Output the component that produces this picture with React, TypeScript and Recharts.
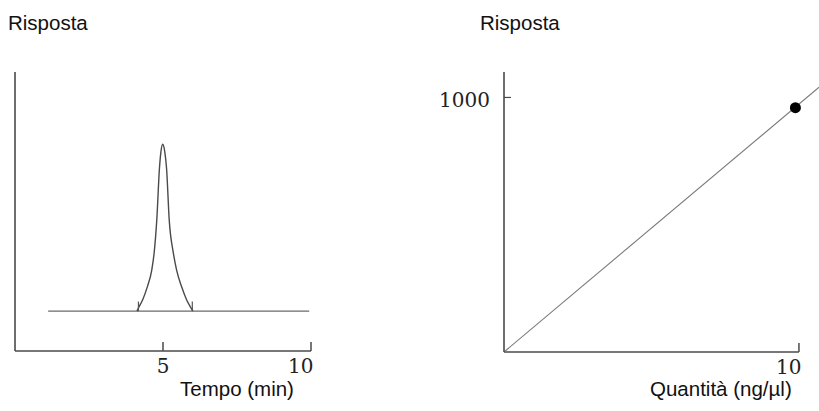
import React from 'react';
import { LineChart, ComposedChart, Line, Scatter, XAxis, YAxis, ReferenceLine } from 'recharts';

// chromatogram: flat baseline with a single peak near 5 min
const baseline = [
  { t: 1.12, r: 14.3 },
  { t: 9.94, r: 14.3 },
];
const peak = [
  { t: 4.12, r: 14.3 },
  { t: 4.17, r: 15.4 },
  { t: 4.31, r: 18.3 },
  { t: 4.47, r: 23.0 },
  { t: 4.62, r: 29.0 },
  { t: 4.7, r: 35.1 },
  { t: 4.79, r: 47.0 },
  { t: 4.88, r: 65.5 },
  { t: 4.93, r: 71.4 },
  { t: 4.99, r: 74.1 },
  { t: 5.06, r: 71.4 },
  { t: 5.12, r: 65.5 },
  { t: 5.21, r: 47.0 },
  { t: 5.35, r: 35.1 },
  { t: 5.46, r: 29.0 },
  { t: 5.63, r: 23.0 },
  { t: 5.8, r: 18.3 },
  { t: 5.95, r: 15.4 },
  { t: 6.01, r: 14.3 },
];
const peakLimits = [4.17, 5.99];
const peakLimitHeight = [14.3, 17.7];
const timeTicks = [5, 10];

// calibration curve: response vs amount
const calibLine = [
  { q: 0, r: 0 },
  { q: 10.68, r: 1040 },
];
const calibPoints = [{ q: 9.88, r: 960 }];
const amountTicks = [10];
const responseTicks = [1000];
const amountAxisEnd = 10;

const AXIS = '#4a4a4a';
const TEXT = '#111';
const titleFont: React.CSSProperties = {
  position: 'absolute',
  fontFamily: '"Liberation Sans", Arial, sans-serif',
  fontSize: 20.5,
  lineHeight: '20px',
  color: TEXT,
  whiteSpace: 'nowrap',
};
const numFont = '"DejaVu Serif", serif';

// ticks point inwards, so the tick line is drawn here with the label
const XTick = (props: any) => {
  const { x, y, payload } = props;
  const wide = String(payload.value).length > 1;
  return (
    <g>
      <line x1={x} y1={y} x2={x} y2={y - 9} stroke={AXIS} strokeWidth={1.5} />
      <text
        x={wide ? x + 2.5 : x}
        y={y + 22}
        textAnchor={wide ? 'end' : 'middle'}
        fontFamily={numFont}
        fontSize={20}
        fill="#222"
      >
        {payload.value}
      </text>
    </g>
  );
};

const YTick = (props: any) => {
  const { x, y, payload } = props;
  return (
    <g>
      <line x1={x} y1={y} x2={x + 7} y2={y} stroke={AXIS} strokeWidth={1.2} />
      <text x={x - 14} y={y + 10} textAnchor="end" fontFamily={numFont} fontSize={20} fill="#222">
        {payload.value}
      </text>
    </g>
  );
};

export default function App() {
  return (
    <div
      style={{
        position: 'absolute',
        left: 0,
        top: 0,
        width: 819,
        height: 411,
        overflow: 'hidden',
        background: '#fff',
      }}
    >
      <div style={{ ...titleFont, left: 8, top: 13 }}>Risposta</div>
      <div style={{ ...titleFont, left: 480, top: 13 }}>Risposta</div>

      <div style={{ position: 'absolute', left: 0, top: 0 }}>
        <LineChart width={330} height={411} margin={{ top: 72, right: 19, bottom: 0, left: 0 }}>
          <XAxis
            type="number"
            dataKey="t"
            domain={[0, 10]}
            ticks={timeTicks}
            height={60}
            stroke={AXIS}
            strokeWidth={1.6}
            tickLine={false}
            tickSize={0}
            tickMargin={0}
            tick={<XTick />}
          />
          <YAxis type="number" domain={[0, 100]} width={15} tick={false} tickLine={false} stroke={AXIS} strokeWidth={1.6} />
          <Line data={baseline} dataKey="r" type="linear" stroke="#6a6a6a" strokeWidth={1.4} dot={false} isAnimationActive={false} />
          <Line data={peak} dataKey="r" type="monotone" stroke="#4a4a4a" strokeWidth={1.4} dot={false} isAnimationActive={false} />
          {peakLimits.map((t) => (
            <ReferenceLine
              key={t}
              segment={[
                { x: t, y: peakLimitHeight[0] },
                { x: t, y: peakLimitHeight[1] },
              ]}
              stroke="#555"
              strokeWidth={1.2}
            />
          ))}
        </LineChart>
      </div>

      <div style={{ position: 'absolute', left: 410, top: 0 }}>
        <ComposedChart width={409} height={411} margin={{ top: 72, right: 0, bottom: 0, left: 0 }}>
          <XAxis
            type="number"
            dataKey="q"
            domain={[0, 'dataMax']}
            ticks={amountTicks}
            height={59}
            axisLine={false}
            tickLine={false}
            tickSize={0}
            tickMargin={0}
            tick={<XTick />}
          />
          <YAxis
            type="number"
            domain={[0, 1100]}
            ticks={responseTicks}
            width={94}
            stroke={AXIS}
            strokeWidth={1.6}
            tickLine={false}
            tickSize={0}
            tickMargin={0}
            tick={<YTick />}
          />
          <ReferenceLine
            segment={[
              { x: 0, y: 0 },
              { x: amountAxisEnd, y: 0 },
            ]}
            stroke={AXIS}
            strokeWidth={1.6}
          />
          <Line data={calibLine} dataKey="r" type="linear" stroke="#7a7a7a" strokeWidth={1.1} dot={false} isAnimationActive={false} />
          <Scatter
            data={calibPoints}
            dataKey="r"
            fill="#000"
            shape={(p: any) => <circle cx={p.cx} cy={p.cy} r={5.5} fill="#000" />}
            isAnimationActive={false}
          />
        </ComposedChart>
      </div>

      <div style={{ ...titleFont, left: 180, top: 379 }}>Tempo (min)</div>
      <div style={{ ...titleFont, left: 650, top: 379 }}>Quantità (ng/µl)</div>
    </div>
  );
}
